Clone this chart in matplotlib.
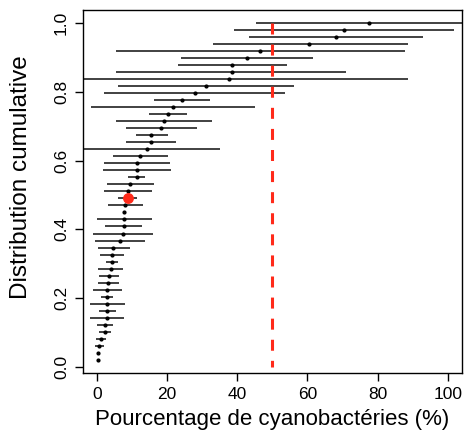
import matplotlib
matplotlib.use("Agg")
import matplotlib.pyplot as plt
import numpy as np

plt.rcParams['font.family'] = ['Liberation Sans', 'DejaVu Sans']

# estimated percentage of cyanobacteria per sample, sorted (bottom to top)
centre = [0.3, 0.3, 0.7, 1.1, 2.2, 2.4, 2.8, 3.0, 3.0, 3.0,
          3.0, 3.2, 3.5, 3.9, 4.3, 4.3, 4.7, 6.6, 7.4, 7.6,
          7.8, 7.8, 8.0, 8.8, 8.8, 9.5, 11.3, 11.4, 11.4, 12.4,
          14.2, 15.4, 15.4, 18.3, 19.1, 20.2, 21.6, 24.3, 27.9, 31.0,
          37.6, 38.4, 38.6, 42.9, 46.6, 60.5, 68.1, 70.3, 77.6]
lower = [0.3, 0.3, -0.5, -0.2, 0.5, 0.0, -1.9, 0.5, -2.1, 1.2,
         -1.1, 0.2, 0.7, 0.3, 2.5, 0.9, 0.2, -0.5, -1.0, 2.4,
         0.0, 7.8, 3.3, 6.1, 2.1, 2.8, 9.0, 1.7, 2.1, 4.7,
         -5.0, 8.3, 11.1, 8.2, 5.5, 14.8, -1.7, 16.4, 2.1, 6.1,
         -8.0, 5.5, 23.2, 24.1, 5.5, 33.1, 43.3, 39.1, 45.4]
upper = [0.3, 0.3, 1.9, 2.5, 4.1, 4.7, 7.6, 5.5, 8.0, 4.7,
         7.2, 6.2, 6.3, 7.4, 6.0, 7.7, 9.5, 13.8, 15.9, 12.8,
         15.6, 7.8, 13.0, 11.3, 15.6, 16.3, 13.8, 21.1, 20.8, 20.2,
         35.0, 22.5, 20.2, 28.6, 32.7, 25.7, 45.1, 32.2, 53.7, 56.1,
         88.7, 71.1, 54.1, 61.5, 87.8, 88.5, 92.9, 101.7, 108.0]
highlight = 23  # index of the sample shown in red
threshold = 50

n = len(centre)
cum = np.arange(1, n + 1) / n

fig = plt.figure(figsize=(4.68, 4.48), dpi=100)
ax = fig.add_axes([0.177, 0.167, 0.81, 0.811])

ax.hlines(cum, lower, upper, color='#333333', lw=1.3)
ax.plot(centre, cum, 'o', color='black', ms=2.0)
ax.plot(centre[highlight], cum[highlight], 'o', color='#ff2a1a', ms=6.8, zorder=5)
ax.plot([threshold, threshold], [1, 0], color='#ff2a1a', lw=2.2, ls=(0, (3.6, 3.3)))

ax.set_xlim(-4, 104)
ax.set_ylim(-0.019, 1.039)
ax.set_xticks([0, 20, 40, 60, 80, 100])
ax.set_yticks([0.0, 0.2, 0.4, 0.6, 0.8, 1.0])
ax.set_yticklabels(['0.0', '0.2', '0.4', '0.6', '0.8', '1.0'], rotation=90, va='center')
ax.tick_params(direction='out', length=6, width=1, labelsize=12.5, pad=4)
for s in ax.spines.values():
    s.set_linewidth(1)
ax.set_xlabel('Pourcentage de cyanobactéries (%)', fontsize=16, labelpad=5)
ax.set_ylabel('Distribution cumulative', fontsize=17.5)
ax.yaxis.set_label_coords(-0.135, 0.54)

fig.savefig('out.png', dpi=100)
